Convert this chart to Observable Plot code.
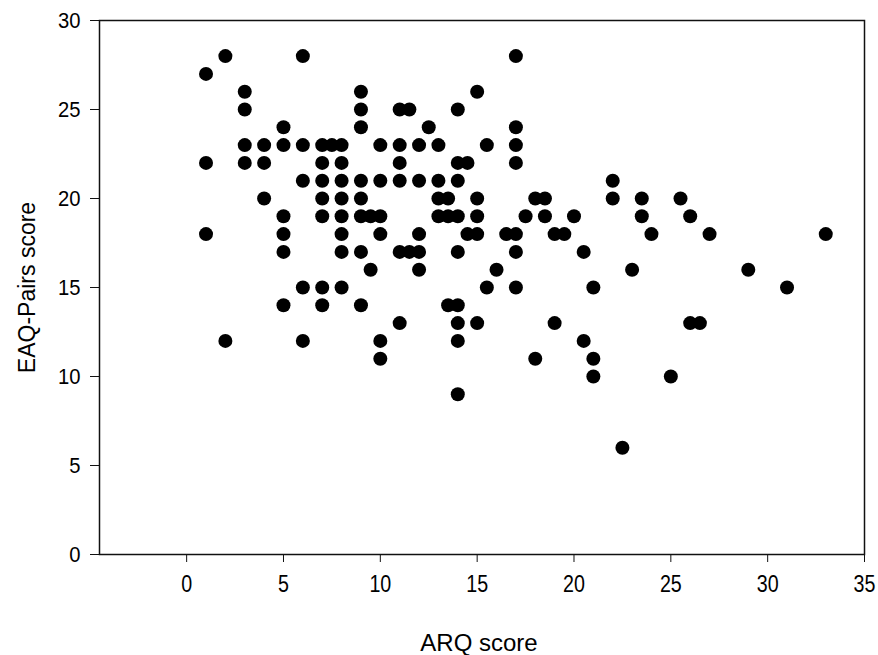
<!DOCTYPE html>
<html>
<head>
<meta charset="utf-8">
<script src="https://cdn.jsdelivr.net/npm/d3@7"></script>
<script src="https://cdn.jsdelivr.net/npm/@observablehq/plot@0.6"></script>
<style>
  html, body { margin: 0; padding: 0; background: #fff; }
  #chart { width: 878px; height: 655px; }
</style>
</head>
<body>
<div id="chart"></div>
<script>
// EAQ-Pairs score levels (rows) and the ARQ scores observed at each level
const eaqLevels = [28, 27, 26, 25, 24, 23, 22, 21, 20, 19, 18, 17, 16, 15, 14, 13, 12, 11, 10, 9, 6];
const arqAtLevel = [
  [2, 6, 17],
  [1],
  [3, 9, 15],
  [3, 9, 11, 11.5, 14],
  [5, 9, 12.5, 17],
  [3, 4, 5, 6, 7, 7.5, 8, 10, 11, 12, 13, 15.5, 17],
  [1, 3, 4, 7, 8, 11, 14, 14.5, 17],
  [6, 7, 8, 9, 10, 11, 12, 13, 14, 22],
  [4, 7, 8, 9, 13, 13.5, 15, 18, 18.5, 22, 23.5, 25.5],
  [5, 7, 8, 9, 9.5, 10, 13, 13.5, 14, 15, 17.5, 18.5, 20, 23.5, 26],
  [1, 5, 8, 10, 12, 14.5, 15, 16.5, 17, 19, 19.5, 24, 27, 33],
  [5, 8, 9, 11, 11.5, 12, 14, 17, 20.5],
  [9.5, 12, 16, 23, 29],
  [6, 7, 8, 15.5, 17, 21, 31],
  [5, 7, 9, 13.5, 14],
  [11, 14, 15, 19, 26, 26.5],
  [2, 6, 10, 14, 20.5],
  [10, 18, 21],
  [21, 25],
  [14],
  [22.5]
];
const xTicks = [0, 5, 10, 15, 20, 25, 30, 35];
const yTicks = [0, 5, 10, 15, 20, 25, 30];
const xTitle = "ARQ score";
const yTitle = "EAQ-Pairs score";

const data = eaqLevels.flatMap((eaq, i) => arqAtLevel[i].map(arq => ({arq, eaq})));

const chart = Plot.plot({
  width: 878,
  height: 655,
  marginLeft: 99,
  marginRight: 14,
  marginTop: 20,
  marginBottom: 101,
  style: {fontFamily: "'Liberation Sans', Arial, sans-serif", fontSize: "22px", background: "#fff", color: "#000"},
  x: {domain: [-4.5, 35]},
  y: {domain: [0, 30]},
  marks: [
    Plot.axisX({ticks: xTicks, tickSize: 8, tickPadding: 12, fontSize: 24, label: null, stroke: "#111"}),
    Plot.axisY({ticks: yTicks, tickSize: 9, tickPadding: 10, fontSize: 22, label: null, stroke: "#111"}),
    Plot.frame({stroke: "#111", strokeWidth: 1.5}),
    Plot.dot(data, {x: "arq", y: "eaq", r: 7, fill: "#000", stroke: "none"}),
    Plot.text([xTitle], {frameAnchor: "bottom", textAnchor: "middle", lineAnchor: "middle", dy: 89, dx: -3, fontSize: 24, fill: "#000"}),
    Plot.text([yTitle], {frameAnchor: "left", textAnchor: "middle", lineAnchor: "middle", dx: -72, rotate: -90, fontSize: 23, fill: "#000"})
  ]
});

// tick label size and narrow glyphs like the reference
d3.select(chart).selectAll('g[aria-label="x-axis tick label"] text')
  .style("font-size", "24px")
  .each(function() {
    const t = this.getAttribute("transform") || "";
    this.setAttribute("transform", t + " scale(0.82,1)");
  });
d3.select(chart).selectAll('g[aria-label="y-axis tick label"] text')
  .style("font-size", "22px")
  .each(function() {
    const t = this.getAttribute("transform") || "";
    this.setAttribute("transform", t + " scale(0.92,1)");
  });

document.getElementById("chart").appendChild(chart);
</script>
</body>
</html>
